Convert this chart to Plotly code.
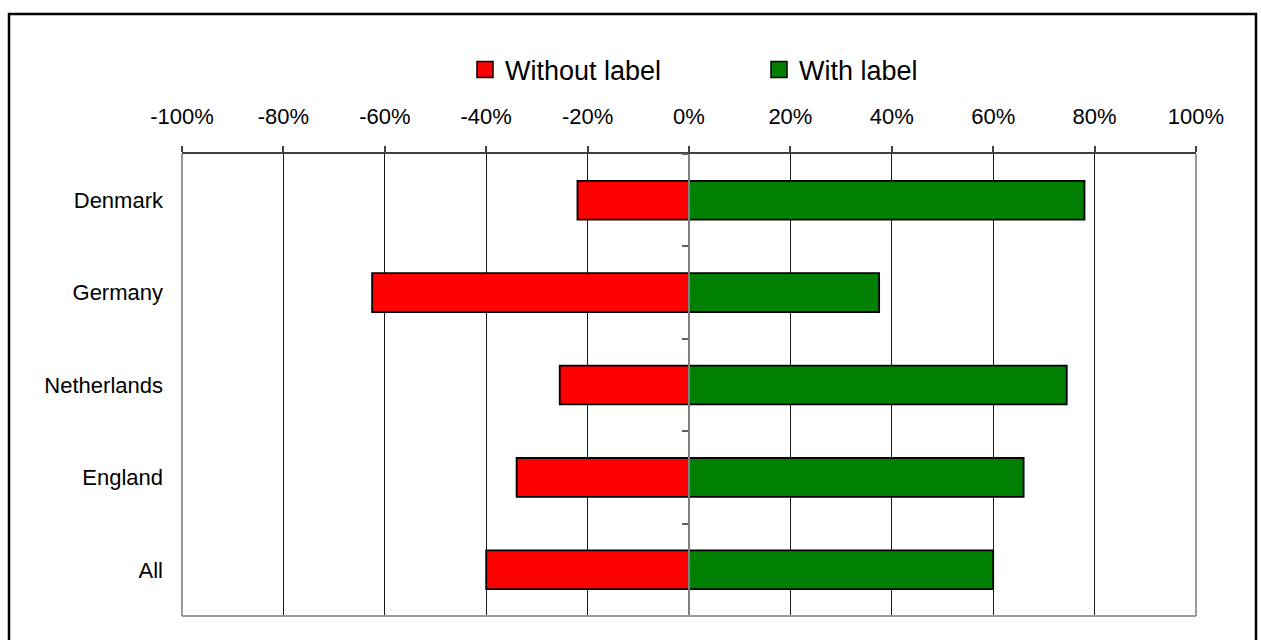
import plotly.graph_objects as go

# Share of respondents per country
countries = ["Denmark", "Germany", "Netherlands", "England", "All"]
without_label = [-22, -62.5, -25.5, -34, -40]
with_label = [78, 37.5, 74.5, 66, 60]

tick_values = [-100, -80, -60, -40, -20, 0, 20, 40, 60, 80, 100]
tick_labels = [f"{v}%" for v in tick_values]

RED = "#FF0000"
GREEN = "#008000"
FRAME_GRAY = "#9a9a9a"
FONT = "Liberation Sans, Arial, sans-serif"

W, H = 1261, 640
L, R, T, B = 182, 1196, 154, 616


def fx(p):
    return (p - L) / (R - L)


def fy(p):
    return (B - p) / (B - T)


fig = go.Figure()

fig.add_trace(go.Bar(
    y=countries, x=without_label, orientation="h", name="Without label",
    marker=dict(color=RED, line=dict(color="black", width=1.8)),
    showlegend=False,
))
fig.add_trace(go.Bar(
    y=countries, x=with_label, orientation="h", name="With label",
    marker=dict(color=GREEN, line=dict(color="black", width=1.8)),
    showlegend=False,
))

# legend entries with larger square swatches
fig.add_trace(go.Scatter(
    x=[None], y=[None], mode="markers", name="Without label",
    marker=dict(symbol="square", size=16, color=RED, line=dict(color="black", width=1.5)),
    legend="legend", xaxis="x", yaxis="y2",
))
fig.add_trace(go.Scatter(
    x=[None], y=[None], mode="markers", name="With label",
    marker=dict(symbol="square", size=16, color=GREEN, line=dict(color="black", width=1.5)),
    legend="legend2", xaxis="x", yaxis="y2",
))

legend_common = dict(
    orientation="h", xanchor="left", yanchor="middle",
    font=dict(family=FONT, size=27, color="black"),
    bgcolor="rgba(0,0,0,0)", borderwidth=0, itemwidth=30,
)

# grey frame on the left, right and bottom of the plot area
frame = [
    dict(type="line", xref="paper", yref="paper", x0=0, x1=0, y0=0, y1=1),
    dict(type="line", xref="paper", yref="paper", x0=1, x1=1, y0=0, y1=1),
    dict(type="line", xref="paper", yref="paper", x0=0, x1=1, y0=0, y1=0),
]
for s in frame:
    s.update(line=dict(color=FRAME_GRAY, width=2), layer="above")

outer = dict(
    type="rect", xref="paper", yref="paper",
    x0=fx(9), x1=fx(1256), y0=fy(660), y1=fy(14),
    line=dict(color="black", width=2.5), fillcolor="rgba(0,0,0,0)",
    layer="above",
)

fig.update_layout(
    width=W, height=H,
    margin=dict(l=L, r=W - R, t=T, b=H - B, pad=0),
    paper_bgcolor="white", plot_bgcolor="white",
    font=dict(family=FONT, size=22, color="black"),
    barmode="relative", bargap=0.58,
    legend=dict(x=fx(465), y=fy(70), **legend_common),
    legend2=dict(x=fx(759), y=fy(70), **legend_common),
    xaxis=dict(
        side="top", range=[-100, 100],
        tickvals=tick_values, ticktext=tick_labels,
        ticks="outside", ticklen=6, tickwidth=1.5, tickcolor="#404040",
        ticklabelstandoff=13,
        showline=True, linecolor="#404040", linewidth=1.5,
        showgrid=True, gridcolor="#1a1a1a", gridwidth=1,
        zeroline=True, zerolinecolor="#808080", zerolinewidth=1.5,
        fixedrange=True,
    ),
    yaxis=dict(
        range=[4.5, -0.5], type="category",
        showline=False, ticks="", showgrid=False, zeroline=False,
        ticklabelstandoff=18,
    ),
    yaxis2=dict(
        overlaying="y", anchor="free", position=0.5, range=[4.5, -0.5],
        tickvals=[-0.5, 0.5, 1.5, 2.5, 3.5, 4.5],
        showticklabels=False, ticks="outside", ticklen=6, tickwidth=1.5,
        tickcolor="#606060",
        showline=True, linecolor="#808080", linewidth=1.5,
        showgrid=False, zeroline=False,
    ),
    shapes=frame + [outer],
)

fig.write_html("out.html")
